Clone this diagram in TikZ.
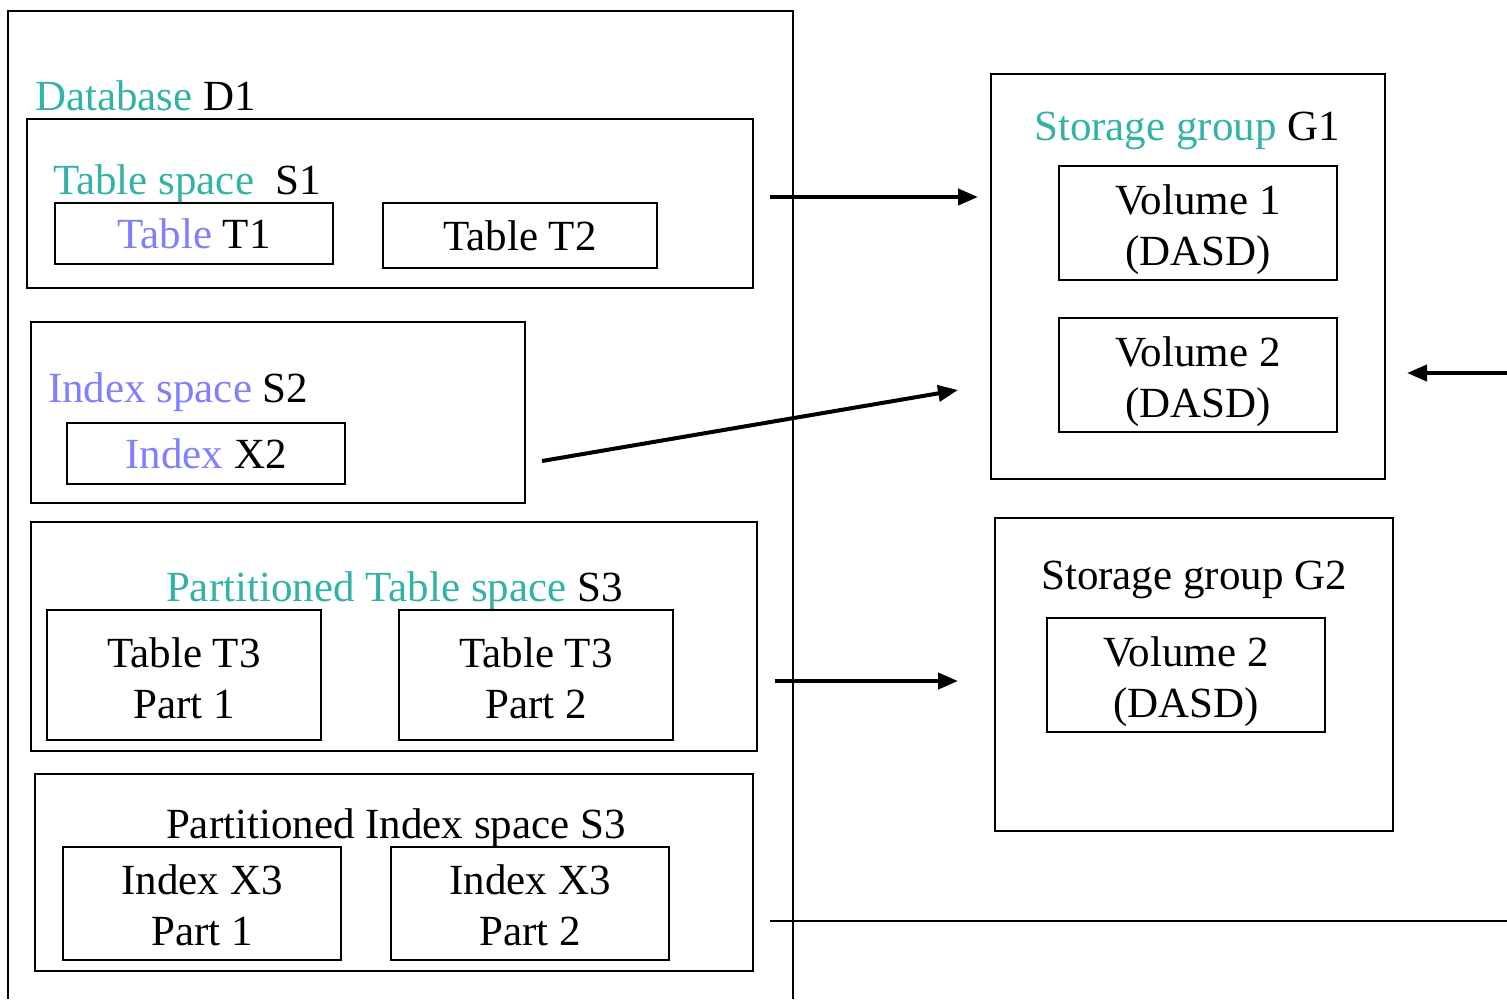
\documentclass[tikz,border=0pt]{standalone}
\usepackage{fontspec}
\setmainfont{Liberation Serif}
\usetikzlibrary{arrows.meta}
\definecolor{teal1}{RGB}{51,178,166}
\definecolor{lblue}{RGB}{128,128,255}
\newcommand\toplift[1]{\rule{0pt}{#1pt}}
\tikzset{
  box/.style={draw, line width=2pt, inner sep=0pt, outer sep=0pt, align=center, font=\fontsize{43}{51}\selectfont},
  lbl/.style={inner sep=0pt, outer sep=0pt, font=\fontsize{43}{51}\selectfont},
  conn/.style={line width=4pt, -{Triangle[length=20pt,width=16pt]}},
  plain/.style={line width=2.8pt}
}
\begin{document}
\begin{tikzpicture}[x=1pt,y=-1pt]
\useasboundingbox (0,0) rectangle (1507,999);
% outer database frame (open at the bottom)
\draw[line width=2pt] (8,999) -- (8,11) -- (793,11) -- (793,999);
\node[lbl, anchor=base west] (d1) at (35,110) {\textcolor{teal1}{Database} D1};
% Table space S1
\node[box, minimum width=726pt, minimum height=169pt] (s1) at (390,203.5) {};
\node[lbl, anchor=base west] (s1l) at (53,194) {\textcolor{teal1}{Table space}\ \ S1};
\node[box, minimum width=278pt, minimum height=61pt] (t1) at (194,233.5) {\textcolor{lblue}{Table} T1};
\node[box, minimum width=274pt, minimum height=65pt] (t2) at (520,235.5) {Table T2};
% Index space S2
\node[box, minimum width=494pt, minimum height=181pt] (s2) at (278,412.5) {};
\node[lbl, anchor=base west] (s2l) at (48,402) {\textcolor{lblue}{Index space} S2};
\node[box, minimum width=278pt, minimum height=61pt] (x2) at (206,453.5) {\textcolor{lblue}{Index} X2};
% Partitioned table space S3
\node[box, minimum width=726pt, minimum height=229pt] (s3t) at (394,636.5) {};
\node[lbl, anchor=base west] (s3tl) at (166,601) {\textcolor{teal1}{Partitioned Table space} S3};
\node[box, minimum width=274pt, minimum height=130pt] (t3a) at (184,675) {\toplift{36}Table T3\\Part 1};
\node[box, minimum width=274pt, minimum height=130pt] (t3b) at (536,675) {\toplift{36}Table T3\\Part 2};
% Partitioned index space S3
\node[box, minimum width=718pt, minimum height=197pt] (s3i) at (394,872.5) {};
\node[lbl, anchor=base west] (s3il) at (166,838) {Partitioned Index space S3};
\node[box, minimum width=278pt, minimum height=113pt] (x3a) at (202,903.5) {\toplift{34}Index X3\\Part 1};
\node[box, minimum width=278pt, minimum height=113pt] (x3b) at (530,903.5) {\toplift{34}Index X3\\Part 2};
% Storage group G1
\node[box, minimum width=394pt, minimum height=405pt] (g1) at (1188,276.5) {};
\node[lbl, anchor=base] (g1l) at (1187,140) {\textcolor{teal1}{Storage group} G1};
\node[box, minimum width=278pt, minimum height=114pt] (v1) at (1198,223) {\toplift{43}Volume 1\\(DASD)};
\node[box, minimum width=278pt, minimum height=114pt] (v2) at (1198,375) {\toplift{43}Volume 2\\(DASD)};
% Storage group G2
\node[box, minimum width=398pt, minimum height=313pt] (g2) at (1194,674.5) {};
\node[lbl, anchor=base] (g2l) at (1194,589) {Storage group G2};
\node[box, minimum width=278pt, minimum height=114pt] (v2b) at (1186,675) {\toplift{43}Volume 2\\(DASD)};
% connectors
\coordinate (a1s) at (770,197);
\coordinate (a1e) at (978,197);
\coordinate (a2s) at (542,461);
\coordinate (a2e) at (958,390);
\coordinate (a3s) at (775,681);
\coordinate (a3e) at (958,681);
\coordinate (a4s) at (1507,373);
\coordinate (a4e) at (1407,373);
\coordinate (l1s) at (770,921);
\coordinate (l1e) at (1507,921);
\draw[conn] (a1s) -- (a1e);
\draw[conn] (a2s) -- (a2e);
\draw[conn] (a3s) -- (a3e);
\draw[conn] (a4s) -- (a4e);
\draw[plain] (l1s) -- (l1e);
\end{tikzpicture}
\end{document}
